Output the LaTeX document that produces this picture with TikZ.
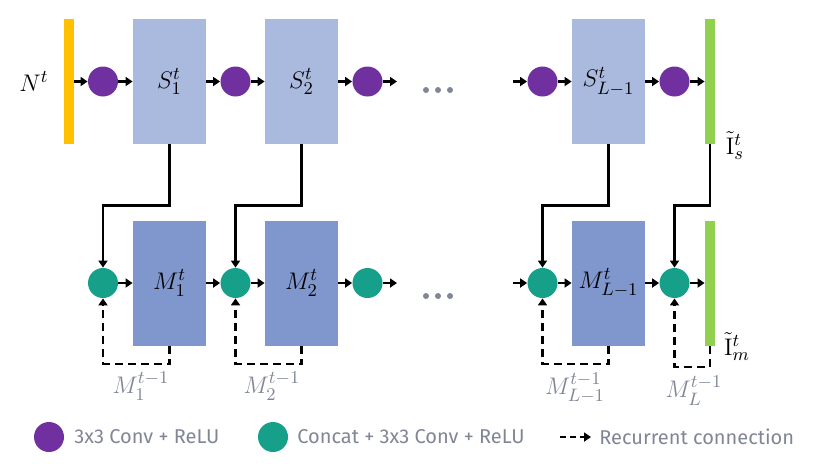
\documentclass[tikz,border=0pt]{standalone}
\usepackage{amsmath}
\usepackage[no-math]{fontspec}
\setmainfont{Fira Sans}
\usetikzlibrary{shapes.geometric, arrows.meta, positioning}
\definecolor{sblue}{HTML}{AAB9DE}
\definecolor{mblue}{HTML}{7F97CD}
\definecolor{convpurple}{HTML}{7030A0}
\definecolor{catteal}{HTML}{16A08A}
\definecolor{inyellow}{HTML}{FFC000}
\definecolor{outgreen}{HTML}{92D050}
\definecolor{labelgray}{HTML}{808696}
\tikzstyle{sbox} = [rectangle, minimum width=36.5pt, minimum height=62.5pt, fill=sblue, inner sep=0pt, font=\fontsize{12.5}{14}\selectfont]
\tikzstyle{mbox} = [rectangle, minimum width=36.5pt, minimum height=62.5pt, fill=mblue, inner sep=0pt, font=\fontsize{12.5}{14}\selectfont]
\tikzstyle{conv} = [circle, fill=convpurple, minimum size=15pt, inner sep=0pt]
\tikzstyle{concat} = [circle, fill=catteal, minimum size=15pt, inner sep=0pt]
\tikzstyle{bar} = [rectangle, minimum width=5pt, minimum height=62.5pt, inner sep=0pt]
\tikzstyle{mlabel} = [font=\fontsize{12.5}{14}\selectfont, inner sep=0pt]
\tikzstyle{prev} = [font=\fontsize{12.5}{14}\selectfont, text=labelgray, inner sep=0pt]
\tikzstyle{legend} = [font=\fontsize{10}{12}\selectfont, text=labelgray, anchor=west, inner sep=0pt]
\tikzstyle{arrow} = [line width=1.2pt,->,>={Triangle[length=3.5pt,width=4.5pt]}]
\tikzstyle{recur} = [line width=1.2pt,dash pattern=on 4pt off 2.5pt,->,>={Triangle[length=3.5pt,width=4.5pt]}]

\begin{document}
\begin{tikzpicture}[x=0.5pt, y=-0.5pt]
        \useasboundingbox (0,0) rectangle (822,463);

        % top row
        \node[bar, fill=inyellow] (nbar) at (69,81.5) {};
        \node[mlabel] (nlab) at (34,81.5) {$N^t$};
        \node[conv] (c1) at (103,81.5) {};
        \node[sbox] (s1) at (169.5,81.5) {$S_1^t$};
        \node[conv] (c2) at (235.5,81.5) {};
        \node[sbox] (s2) at (301.5,81.5) {$S_2^t$};
        \node[conv] (c3) at (367.5,81.5) {};
        \coordinate (tend) at (397,81.5);
        \coordinate (tstart) at (513,81.5);
        \node[conv] (c4) at (542.5,81.5) {};
        \node[sbox] (s3) at (608.5,81.5) {$S_{L-1}^t$};
        \node[conv] (c5) at (674.5,81.5) {};
        \node[bar, fill=outgreen] (sbar) at (710,81.5) {};
        \node[mlabel] (slab) at (735,146) {$\tilde{\mathrm{I}}_s^t$};

        % bottom row
        \node[concat] (k1) at (103,283) {};
        \node[mbox] (m1) at (169.5,283) {$M_1^t$};
        \node[concat] (k2) at (235.5,283) {};
        \node[mbox] (m2) at (301.5,283) {$M_2^t$};
        \node[concat] (k3) at (367.5,283) {};
        \coordinate (bend) at (397,283);
        \coordinate (bstart) at (513,283);
        \node[concat] (k4) at (542.5,283) {};
        \node[mbox] (m3) at (608.5,283) {$M_{L-1}^t$};
        \node[concat] (k5) at (674.5,283) {};
        \node[bar, fill=outgreen] (mbar) at (710,283) {};
        \node[mlabel] (mlab) at (737,347) {$\tilde{\mathrm{I}}_m^t$};

        \node[prev] (p1) at (141,386) {$M_1^{t-1}$};
        \node[prev] (p2) at (272,386) {$M_2^{t-1}$};
        \node[prev] (p3) at (575,388) {$M_{L-1}^{t-1}$};
        \node[prev] (p4) at (694,391) {$M_L^{t-1}$};

        \foreach \x in {426,438,450} {
            \fill[labelgray] (\x,90) circle (3);
            \fill[labelgray] (\x,296) circle (3);
        }

        \draw[arrow] (nbar) -- (c1);
        \draw[arrow] (c1) -- (s1);
        \draw[arrow] (s1) -- (c2);
        \draw[arrow] (c2) -- (s2);
        \draw[arrow] (s2) -- (c3);
        \draw[arrow] (c3) -- (tend);
        \draw[arrow] (tstart) -- (c4);
        \draw[arrow] (c4) -- (s3);
        \draw[arrow] (s3) -- (c5);
        \draw[arrow] (c5) -- (sbar);

        \draw[arrow] (k1) -- (m1);
        \draw[arrow] (m1) -- (k2);
        \draw[arrow] (k2) -- (m2);
        \draw[arrow] (m2) -- (k3);
        \draw[arrow] (k3) -- (bend);
        \draw[arrow] (bstart) -- (k4);
        \draw[arrow] (k4) -- (m3);
        \draw[arrow] (m3) -- (k5);
        \draw[arrow] (k5) -- (mbar);

        \draw[arrow] (s1.south) -- ++(0,61) -| (k1.north);
        \draw[arrow] (s2.south) -- ++(0,61) -| (k2.north);
        \draw[arrow] (s3.south) -- ++(0,61) -| (k4.north);
        \draw[arrow] (sbar.south) -- ++(0,61) -| (k5.north);

        \draw[recur] (m1.south) -- ++(0,18) -| (k1.south);
        \draw[recur] (m2.south) -- ++(0,18) -| (k2.south);
        \draw[recur] (m3.south) -- ++(0,18) -| (k4.south);
        \draw[recur] (mbar.south) -- ++(0,21) -| (k5.south);

        % legend
        \node[conv] (lconv) at (49,437) {};
        \node[legend] (tconv) at (74,437) {3x3 Conv + ReLU};
        \node[concat] (lcat) at (273,437) {};
        \node[legend] (tcat) at (297,437) {Concat + 3x3 Conv + ReLU};
        \coordinate (lrec) at (560,437);
        \node[legend] (trec) at (599,437) {Recurrent connection};
        \draw[recur, dash pattern=on 3pt off 2pt] (lrec) -- ([xshift=-4pt]trec.west);
    \end{tikzpicture}
\end{document}
